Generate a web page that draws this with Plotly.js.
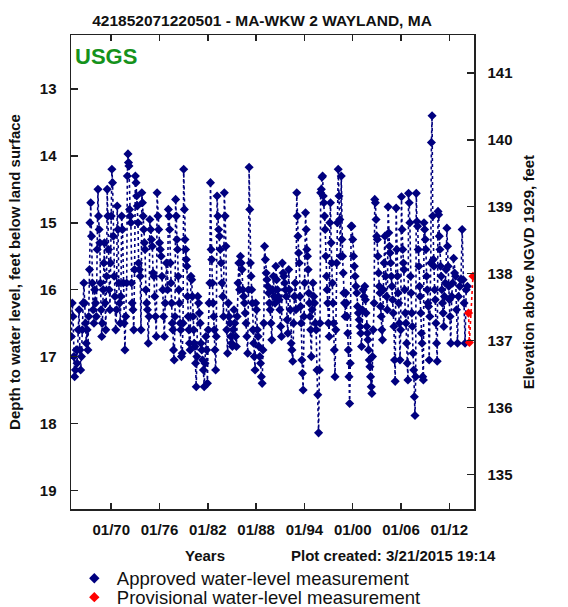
<!DOCTYPE html>
<html>
<head>
<meta charset="utf-8">
<script src="https://cdn.plot.ly/plotly-3.0.1.min.js"></script>
<style>html,body{margin:0;padding:0;background:#fff;}#chart{width:568px;height:607px;}</style>
</head>
<body>
<div id="chart"></div>
<script>
// ---- Data (decimal year, depth to water level in feet below land surface) ----
const t1960s = [1965.05,1965.15,1965.25,1965.35,1965.45,1965.55,1965.65,1965.75,1965.9,
  1966.0,1966.1,1966.2,1966.3,1966.4,1966.5,1966.6,1966.7,1966.8,1966.9,
  1967.0,1967.1,1967.2,1967.3,1967.35,1967.45,1967.55,1967.65,1967.75,1967.85,1967.95,
  1968.05,1968.15,1968.25,1968.35,1968.42,1968.5,1968.58,1968.66,1968.74,1968.82,1968.9,
  1969.0,1969.08,1969.16,1969.24,1969.32,1969.42,1969.5,1969.58,1969.66,1969.74,1969.84,1969.92];
const d1960s = [16.7,16.2,16.4,17.0,17.3,17.2,16.9,17.1,16.6,
  16.3,16.9,17.2,17.0,16.6,16.2,15.9,16.2,16.5,16.8,
  16.6,16.9,16.4,15.7,15.0,14.7,15.2,15.9,16.3,16.5,16.0,
  16.2,16.4,15.4,14.5,14.9,15.1,15.3,15.9,16.3,16.7,16.5,
  16.0,15.6,15.3,16.2,16.6,15.8,14.5,14.9,15.4,16.0,16.3,15.6];

const t1970s = [1970.0,1970.08,1970.16,1970.26,1970.36,1970.46,1970.56,1970.66,1970.74,1970.84,1970.94,
  1971.04,1971.12,1971.2,1971.3,1971.4,1971.5,1971.6,1971.7,1971.8,
  1971.92,1972.0,1972.08,1972.14,1972.2,1972.28,1972.36,1972.44,1972.52,1972.6,1972.7,
  1972.8,1972.9,1973.0,1973.08,1973.16,1973.24,1973.32,1973.4,1973.5,1973.6,1973.7,
  1973.8,1973.88,1973.96,1974.04,1974.12,1974.2,1974.3,1974.4,1974.5,1974.6,
  1974.7,1974.8,1974.9,1975.0,1975.1,1975.2,1975.3,1975.4,1975.5,1975.6,1975.7,1975.8,1975.9,
  1976.0,1976.1,1976.2,1976.3,1976.4,1976.5,1976.6,1976.7,1976.85,1977.0,
  1977.1,1977.18,1977.26,1977.34,1977.42,1977.5,1977.58,1977.66,1977.74,1977.82,1977.92,
  1978.0,1978.08,1978.16,1978.24,1978.32,1978.4,1978.48,1978.56,1978.64,1978.72,1978.82,1978.92,
  1979.0,1979.08,1979.16,1979.24,1979.32,1979.4,1979.48,1979.56,1979.64,1979.72,1979.8,1979.9];
const d1970s = [14.9,14.2,14.4,15.2,15.8,16.1,16.6,16.3,14.75,15.1,15.9,
  16.2,16.5,16.1,14.9,15.1,15.9,16.5,16.9,16.4,
  15.9,14.3,13.97,14.1,14.15,14.8,14.9,15.0,15.9,16.2,16.3,
  16.6,15.7,14.3,14.4,14.6,14.75,15.0,15.6,15.7,15.8,16.6,
  14.55,14.7,14.9,15.1,15.3,15.4,16.0,16.2,16.3,16.8,
  16.4,14.95,15.1,15.25,15.35,15.75,15.8,16.1,16.4,16.7,14.55,14.9,15.1,
  15.3,15.4,15.5,15.8,16.0,16.4,16.7,16.2,15.6,16.0,
  14.8,14.9,15.1,15.6,15.9,16.2,16.5,16.6,16.9,17.05,16.4,
  14.65,14.9,15.25,15.4,15.8,16.0,16.2,16.5,16.6,17.0,16.95,16.5,
  14.2,14.8,15.25,15.4,15.55,15.65,16.1,16.4,16.6,16.8,16.9,15.8];

const t1980s = [1980.0,1980.08,1980.16,1980.24,1980.32,1980.4,1980.48,1980.56,1980.64,1980.75,1980.85,1980.95,
  1981.05,1981.15,1981.25,1981.35,1981.45,1981.55,1981.65,1981.75,1981.85,1981.95,
  1982.05,1982.15,1982.25,1982.33,1982.41,1982.49,1982.57,1982.65,1982.73,1982.81,1982.89,1982.97,
  1983.05,1983.15,1983.25,1983.35,1983.45,1983.55,1983.65,1983.75,1983.85,1983.95,
  1984.05,1984.15,1984.25,1984.35,1984.45,1984.55,1984.65,1984.75,1984.85,1984.95,
  1985.05,1985.15,1985.25,1985.35,1985.45,1985.55,1985.65,1985.75,1985.85,1985.95,
  1986.05,1986.15,1986.25,1986.35,1986.45,1986.55,1986.65,1986.75,1986.85,1986.95,
  1987.05,1987.13,1987.21,1987.29,1987.37,1987.45,1987.53,1987.61,1987.69,1987.77,1987.87,1987.95,
  1988.05,1988.15,1988.25,1988.35,1988.45,1988.55,1988.65,1988.75,1988.85,1988.95,
  1989.05,1989.15,1989.25,1989.35,1989.45,1989.55,1989.65,1989.75,1989.85,1989.95];
const d1980s = [15.85,16.1,16.4,16.6,16.8,16.85,17.1,17.45,17.0,16.1,16.2,16.35,
  16.5,16.8,16.9,17.05,17.2,17.45,17.1,16.7,16.9,17.4,
  16.6,16.2,15.9,14.4,15.4,15.55,15.9,16.2,16.4,16.6,16.9,17.2,
  16.7,14.6,14.9,15.1,15.2,15.4,15.6,15.9,16.1,16.4,
  14.55,14.9,15.35,16.6,16.95,16.2,16.4,16.5,16.7,16.8,
  16.85,16.6,16.3,16.5,16.7,16.85,16.4,15.9,15.6,16.0,
  15.5,15.6,15.7,16.0,16.1,16.2,16.35,16.5,16.7,16.95,
  16.0,14.17,14.8,15.6,15.8,16.0,16.2,16.6,16.8,17.0,17.2,16.2,
  16.3,16.6,16.7,16.85,17.0,17.1,17.3,17.4,16.9,16.5,
  15.35,15.55,15.75,15.85,15.95,16.05,16.2,16.3,16.5,16.75];

const t1990s = [1990.05,1990.15,1990.25,1990.35,1990.45,1990.55,1990.65,1990.75,1990.85,1990.95,
  1991.05,1991.15,1991.25,1991.35,1991.45,1991.55,1991.65,1991.75,1991.85,1991.95,
  1992.05,1992.15,1992.25,1992.35,1992.45,1992.55,1992.65,1992.75,1992.85,1992.95,
  1993.05,1993.12,1993.2,1993.28,1993.36,1993.44,1993.52,1993.6,1993.68,1993.76,1993.84,1993.94,
  1994.04,1994.14,1994.22,1994.3,1994.38,1994.46,1994.54,1994.62,1994.7,1994.78,1994.86,1994.96,
  1995.06,1995.16,1995.26,1995.36,1995.46,1995.56,1995.66,1995.76,1995.86,1995.94,
  1996.02,1996.1,1996.18,1996.26,1996.34,1996.42,1996.5,1996.58,1996.66,1996.74,1996.82,1996.9,1996.98,
  1997.08,1997.16,1997.24,1997.32,1997.4,1997.48,1997.56,1997.64,1997.72,1997.8,1997.9,
  1998.0,1998.1,1998.2,1998.3,1998.4,1998.5,1998.58,1998.66,1998.74,1998.82,1998.9,1998.98,
  1999.06,1999.14,1999.22,1999.3,1999.38,1999.46,1999.54,1999.62,1999.7,1999.8,1999.9];
const d1990s = [16.0,15.8,16.1,16.2,15.65,15.85,16.0,16.1,16.15,16.3,
  16.55,16.7,15.6,15.75,15.8,15.9,16.0,16.1,16.45,16.65,
  15.7,16.0,16.3,16.8,16.9,17.07,16.5,16.1,15.9,16.3,
  14.55,14.9,15.2,15.45,15.6,16.1,16.25,16.5,17.05,17.25,17.5,16.4,
  15.9,14.85,15.1,15.4,15.5,15.7,16.05,16.2,16.4,16.6,17.0,16.3,
  15.9,16.1,16.2,16.5,16.6,17.2,17.57,18.14,17.2,16.5,
  14.55,14.5,14.32,14.3,14.6,14.7,14.9,15.1,15.5,15.8,16.0,16.2,16.5,
  16.7,15.0,14.7,15.3,15.6,15.9,16.2,16.5,16.9,17.3,16.6,
  15.6,15.0,14.2,14.6,14.95,15.5,14.3,15.25,15.5,15.75,16.05,16.2,
  16.4,16.05,16.2,16.4,16.65,16.9,17.3,17.7,17.1,15.05,15.05];

const t2000s = [2000.0,2000.1,2000.2,2000.3,2000.4,2000.5,2000.6,2000.7,2000.8,2000.9,
  2001.0,2001.1,2001.2,2001.3,2001.4,2001.5,2001.58,2001.66,2001.74,2001.82,2001.9,2001.98,
  2002.06,2002.14,2002.22,2002.3,2002.38,2002.46,2002.54,2002.66,2002.74,2002.82,2002.9,2002.98,
  2003.06,2003.14,2003.22,2003.3,2003.38,2003.46,2003.54,2003.62,2003.7,2003.8,2003.9,
  2004.0,2004.1,2004.2,2004.3,2004.4,2004.48,2004.56,2004.64,2004.72,2004.8,2004.88,2004.96,
  2005.04,2005.12,2005.2,2005.28,2005.4,2005.48,2005.56,2005.64,2005.72,2005.8,2005.88,2005.96,
  2006.06,2006.14,2006.22,2006.3,2006.38,2006.46,2006.54,2006.62,2006.7,2006.78,2006.86,2006.94,
  2007.02,2007.1,2007.18,2007.26,2007.34,2007.42,2007.5,2007.58,2007.66,2007.74,2007.82,2007.9,2007.98,
  2008.06,2008.14,2008.22,2008.3,2008.38,2008.46,2008.54,2008.62,2008.7,2008.78,2008.86,2008.94,
  2009.02,2009.1,2009.18,2009.26,2009.34,2009.42,2009.5,2009.58,2009.7,2009.78,2009.86,2009.94];
const d2000s = [15.25,15.5,15.65,15.8,15.95,16.05,16.25,16.35,16.45,16.55,
  16.65,16.85,16.3,16.0,16.1,15.95,16.15,16.35,16.55,16.65,16.75,16.9,
  17.05,17.15,17.3,17.45,17.55,17.0,16.6,16.2,14.65,14.7,14.95,15.2,
  15.25,15.5,15.75,15.95,16.05,16.25,16.4,16.6,16.75,16.0,15.6,
  15.2,15.8,16.1,16.3,14.76,15.15,15.35,15.45,15.6,15.8,15.95,16.15,
  16.35,16.55,17.05,17.37,14.78,15.4,15.8,16.05,16.2,16.5,17.05,16.6,
  14.61,15.1,15.4,15.6,15.7,16.0,16.35,16.5,16.8,17.1,17.35,14.56,
  14.7,15.0,15.8,16.05,16.35,16.55,16.95,17.2,17.6,17.88,17.3,14.56,14.98,
  15.05,15.4,15.65,15.95,16.1,16.35,16.65,16.8,17.3,17.35,15.0,15.1,
  15.25,15.4,15.8,16.0,16.2,16.25,17.05,16.4,15.6,13.8,13.4,14.9];

const t2010s = [2010.02,2010.1,2010.18,2010.26,2010.34,2010.42,2010.5,2010.6,2010.68,2010.76,2010.84,2010.92,
  2011.0,2011.08,2011.16,2011.24,2011.32,2011.4,2011.5,2011.6,2011.7,2011.78,2011.86,2011.94,
  2012.02,2012.1,2012.18,2012.3,2012.42,2012.54,2012.66,2012.78,2012.9,
  2013.02,2013.14,2013.3,2013.45,2013.6,2013.72,2013.84,2013.96,
  2014.1,2014.25];
const d2010s = [15.55,15.65,16.0,16.15,16.5,16.8,17.07,14.83,14.88,15.2,15.4,15.65,
  15.8,16.0,16.2,16.35,16.55,16.1,15.9,15.7,15.08,15.35,15.65,15.95,
  16.15,16.4,16.8,16.1,15.9,15.53,15.75,15.8,16.3,
  16.8,16.1,15.95,15.85,15.1,15.85,16.2,16.8,
  16.0,15.95];

// Provisional measurements
const tProvisional = [2014.39,2014.5,2014.94];
const dProvisional = [16.35,16.79,15.8];

// Tick labels
const xTickVals = [1970,1976,1982,1988,1994,2000,2006,2012];
const xTickText = ['01/70','01/76','01/82','01/88','01/94','01/00','01/06','01/12'];
const depthTicks = [13,14,15,16,17,18,19];
const elevTicks = [135,136,137,138,139,140,141];
const landSurface = 153.76; // elevation of land surface, ft NGVD 1929

const tApproved = [].concat(t1960s, t1970s, t1980s, t1990s, t2000s, t2010s);
const dApproved = [].concat(d1960s, d1970s, d1980s, d1990s, d2000s, d2010s);

const navy = '#00007f';
const red = '#ff0000';
const FONT = 'Liberation Sans, Arial, Helvetica, sans-serif';
const depthRange = [19.278, 12.193];

const traces = [
  {x: tApproved, y: dApproved, type: 'scatter', mode: 'lines+markers', showlegend: false,
   line: {color: navy, dash: 'dot', width: 1.6},
   marker: {symbol: 'diamond', size: 7, color: navy}},
  {x: tProvisional, y: dProvisional, type: 'scatter', mode: 'lines+markers', showlegend: false,
   line: {color: red, dash: 'dot', width: 1.6},
   marker: {symbol: 'diamond', size: 7, color: red}},
  // empty trace that attaches the elevation (right) axis
  {x: [null], y: [null], type: 'scatter', mode: 'markers', yaxis: 'y2', showlegend: false, hoverinfo: 'skip'},
  {x: [null], y: [null], type: 'scatter', mode: 'markers', name: 'Approved water-level measurement',
   legend: 'legend', marker: {symbol: 'diamond', size: 8, color: navy}},
  {x: [null], y: [null], type: 'scatter', mode: 'markers', name: 'Provisional water-level measurement',
   legend: 'legend2', marker: {symbol: 'diamond', size: 8, color: red}}
];

const axisLine = '#222';
const tickFont = {family: FONT, size: 15, color: '#111', weight: 'bold'};

const layout = {
  width: 568, height: 607,
  margin: {l: 71, r: 94, t: 35, b: 98, pad: 0, autoexpand: false},
  paper_bgcolor: '#ffffff', plot_bgcolor: '#ffffff',
  font: {family: FONT, size: 15, color: '#111'},
  title: {text: '421852071220501 - MA-WKW 2 WAYLAND, MA',
    font: {family: FONT, size: 15.5, color: '#111', weight: 'bold'},
    xref: 'container', yref: 'container', x: 262/568, xanchor: 'center', y: 1 - 21/607, yanchor: 'middle'},
  xaxis: {range: [1965.0, 2015.07], tickmode: 'array', tickvals: xTickVals, ticktext: xTickText,
    ticks: 'inside', ticklen: 6, tickwidth: 1.5, tickcolor: axisLine,
    showline: true, linecolor: axisLine, linewidth: 1.5, mirror: 'ticks',
    showgrid: false, zeroline: false, tickfont: tickFont, ticklabelstandoff: 6},
  yaxis: {range: depthRange, tickmode: 'array', tickvals: depthTicks,
    ticks: 'inside', ticklen: 7, tickwidth: 1.5, tickcolor: axisLine,
    showline: true, linecolor: axisLine, linewidth: 1.5,
    showgrid: false, zeroline: false, tickfont: tickFont, ticklabelstandoff: 10,
    title: {text: 'Depth to water level, feet below land surface',
      font: {family: FONT, size: 15, color: '#111', weight: 'bold'}, standoff: 15}},
  yaxis2: {overlaying: 'y', side: 'right', anchor: 'x',
    range: [landSurface - depthRange[0], landSurface - depthRange[1]],
    tickmode: 'array', tickvals: elevTicks,
    ticks: 'inside', ticklen: 7, tickwidth: 1.5, tickcolor: axisLine,
    showline: true, linecolor: axisLine, linewidth: 1.5,
    showgrid: false, zeroline: false, tickfont: tickFont, ticklabelstandoff: 9,
    title: {text: 'Elevation above NGVD 1929, feet',
      font: {family: FONT, size: 15, color: '#111', weight: 'bold'}, standoff: 12}},
  annotations: [
    {text: 'USGS', xref: 'paper', yref: 'paper', x: 0.006, y: (509.3 - 57) / 474.3,
     xanchor: 'left', yanchor: 'middle', showarrow: false,
     font: {family: FONT, size: 22, color: '#15921c', weight: 'bold'}},
    {text: 'Years', xref: 'paper', yref: 'paper', x: (205 - 70.7) / 403, y: (509.3 - 556) / 474.3,
     xanchor: 'center', yanchor: 'middle', showarrow: false,
     font: {family: FONT, size: 15, color: '#111', weight: 'bold'}},
    {text: 'Plot created: 3/21/2015 19:14', xref: 'paper', yref: 'paper', x: (393.5 - 70.7) / 403,
     y: (509.3 - 556) / 474.3, xanchor: 'center', yanchor: 'middle', showarrow: false,
     font: {family: FONT, size: 15, color: '#111', weight: 'bold'}}
  ],
  legend: {x: 0.002, y: (509.3 - 579) / 474.3, xanchor: 'left', yanchor: 'middle', itemwidth: 35,
    bgcolor: 'rgba(0,0,0,0)', borderwidth: 0, font: {family: FONT, size: 18.5, color: '#111'}},
  legend2: {x: 0.002, y: (509.3 - 598) / 474.3, xanchor: 'left', yanchor: 'middle', itemwidth: 35,
    bgcolor: 'rgba(0,0,0,0)', borderwidth: 0, font: {family: FONT, size: 18.5, color: '#111'}}
};

Plotly.newPlot('chart', traces, layout, {displayModeBar: false, staticPlot: true});
</script>
</body>
</html>
